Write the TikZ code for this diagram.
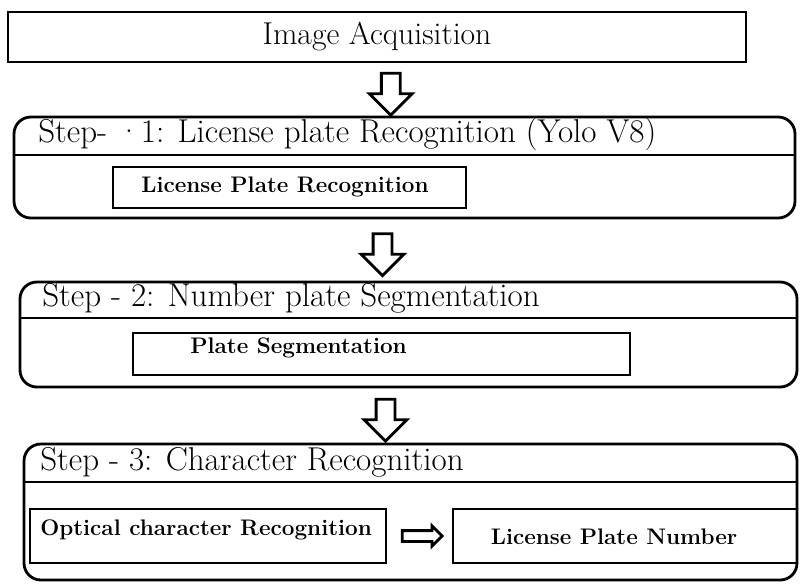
\documentclass[tikz,border=0pt]{standalone}
\usepackage{fontspec}
\usetikzlibrary{arrows.meta,positioning,shapes.arrows,calc}

\begin{document}
\begin{tikzpicture}[
  lprstage/.style={draw,line width=2pt,rounded corners=12pt,inner sep=0pt},
  lprbox/.style={draw,line width=2pt,inner sep=0pt},
  lprrule/.style={line width=2pt},
  lprtitle/.style={anchor=west,inner sep=0pt,font=\fontsize{23.5}{27}\selectfont},
  lprlabel/.style={inner sep=0pt,font=\fontsize{16}{19}\selectfont\bfseries},
  lprdown/.style={draw,line width=2pt,single arrow,shape border rotate=270,inner sep=0.2cm,
    minimum width=1.0cm,minimum height=1.05cm,single arrow head extend=0.3cm},
  lprright/.style={draw,line width=2pt,single arrow,inner sep=0.1cm,
    minimum width=0.45cm,minimum height=1.0cm,single arrow head extend=0.12cm}
]
  \useasboundingbox (0,0) rectangle (20,-14.6);

  % Acquisition
  \node[lprbox,minimum width=18.45cm,minimum height=1.25cm,
    font=\fontsize{22.5}{26}\selectfont] (acq) at (9.425,-0.925) {Image Acquisition};

  % Step 1
  \node[lprstage,minimum width=19.525cm,minimum height=2.525cm] (s1) at (10.1125,-4.1875) {};
  \draw[lprrule] (s1.west |- 0,-3.875) -- (s1.east |- 0,-3.875);
  \node[lprtitle] (t1) at (0.95,-3.35) {Step- ·1: License plate Recognition (Yolo V8)};
  \node[lprbox,minimum width=8.825cm,minimum height=1.025cm] (b1) at (7.2375,-4.6875) {};
  \node[lprlabel] (l1) at (7.125,-4.68) {License Plate Recognition};

  % Step 2
  \node[lprstage,minimum width=19.425cm,minimum height=2.625cm] (s2) at (10.2125,-8.3625) {};
  \draw[lprrule] (s2.west |- 0,-7.95) -- (s2.east |- 0,-7.95);
  \node[lprtitle] (t2) at (1.05,-7.45) {Step - 2: Number plate Segmentation};
  \node[lprbox,minimum width=12.425cm,minimum height=1.05cm] (b2) at (9.5375,-8.85) {};
  \node[lprlabel,anchor=west] (l2) at (4.75,-8.7) {Plate Segmentation};

  % Step 3
  \node[lprstage,minimum width=19.325cm,minimum height=3.4cm] (s3) at (10.2625,-12.8) {};
  \draw[lprrule] (s3.west |- 0,-12.05) -- (s3.east |- 0,-12.05);
  \node[lprtitle] (t3) at (1.0,-11.55) {Step - 3: Character Recognition};
  \node[lprbox,minimum width=8.9cm,minimum height=1.35cm] (b3a) at (5.2,-13.4) {};
  \node[lprlabel,anchor=west] (l3a) at (1.0,-13.25) {Optical character Recognition};
  \node[lprbox,minimum width=8.6cm,minimum height=1.35cm] (b3b) at (15.625,-13.4) {};
  \node[lprlabel] (l3b) at (15.35,-13.425) {License Plate Number};

  % Arrows between stages
  \node[lprdown] (a1) at ($(acq.south)!0.5!(s1.north)$) {};
  \node[lprdown] (a2) at ($(s1.south)!0.5!(s2.north) - (0.6,0)$) {};
  \node[lprdown] (a3) at ($(s2.south)!0.5!(s3.north) - (0.6,0)$) {};
  \node[lprright] (a4) at ($(b3a.east)!0.5!(b3b.west)$) {};
\end{tikzpicture}
\end{document}
